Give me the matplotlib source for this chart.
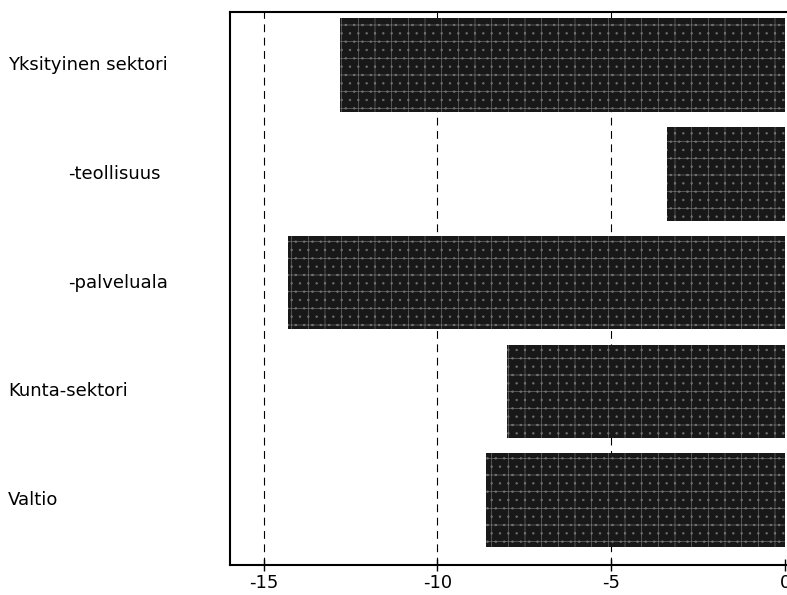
import matplotlib.pyplot as plt
import matplotlib as mpl

# Data (change in %)
categories = ["Yksityinen sektori", "-teollisuus", "-palveluala", "Kunta-sektori", "Valtio"]
values = [-12.8, -3.4, -14.3, -8.0, -8.6]
indent = [False, True, True, False, False]
xticks = [-15, -10, -5, 0]

mpl.rcParams['font.family'] = ['Liberation Sans Narrow', 'DejaVu Sans']
mpl.rcParams['hatch.linewidth'] = 0.5

fig = plt.figure(figsize=(7.87, 5.95), dpi=100)
ax = fig.add_axes([0.292, 0.050, 0.708, 0.930])

ypos = list(range(len(categories)))
ax.barh(ypos, values, height=0.86, color='#181818', edgecolor='#6e6e6e',
        linewidth=0, hatch='+..', zorder=2)

ax.set_xlim(-15.97, 0.05)
ax.set_ylim(4.6, -0.49)

for x in xticks[:-1]:
    ax.axvline(x, color='black', linestyle=(0, (7, 5)), linewidth=0.8, zorder=1)

ax.set_xticks(xticks)
ax.set_xticklabels([str(t) for t in xticks], fontsize=13)
ax.tick_params(axis='x', direction='inout', length=9, width=1, pad=2)
ax.set_yticks([])

for spine in ['left', 'bottom', 'top']:
    ax.spines[spine].set_linewidth(1.5)
ax.spines['right'].set_visible(False)

for y, label, ind in zip(ypos, categories, indent):
    xfig = 68 / 787 if ind else 8 / 787
    yfig = ax.transData.transform((0, y))[1] / fig.bbox.height
    fig.text(xfig, yfig, label, fontsize=13, ha='left', va='center')

fig.savefig("out.png", dpi=100)
